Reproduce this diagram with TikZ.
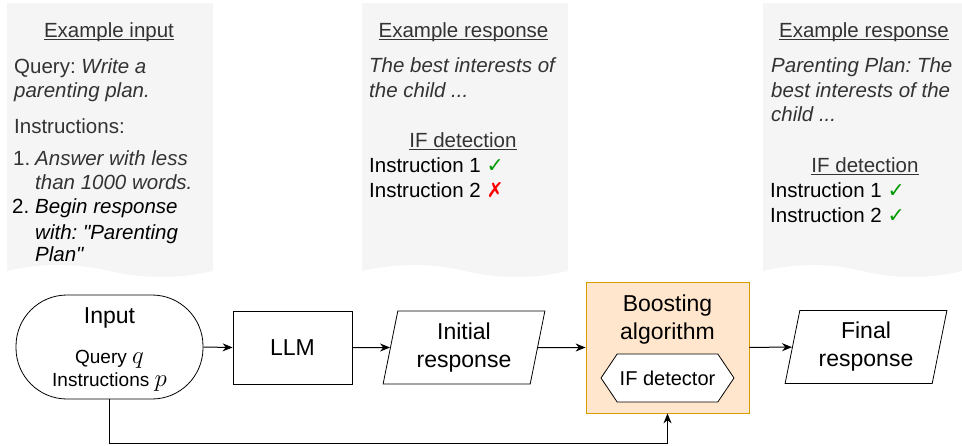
\documentclass[tikz,border=0pt]{standalone}
\usepackage{fontspec}
\setmainfont{Liberation Sans}
\newfontfamily\symfont{DejaVu Sans}
\usetikzlibrary{arrows.meta,shapes.geometric,shapes.symbols}
\DeclareMathSizes{19}{23}{16}{12}
\definecolor{docgray}{HTML}{F5F5F5}
\definecolor{txtgray}{HTML}{333333}
\definecolor{boostfill}{HTML}{FFE6CC}
\definecolor{boostline}{HTML}{D79B00}
\definecolor{okgreen}{HTML}{009900}
\newcommand{\okmark}{{\symfont\color{okgreen}✓}}
\newcommand{\nomark}{{\symfont\color{red}✗}}
\newcommand{\ulhead}[1]{\setbox0\hbox{#1}\rlap{\rule[-2.8pt]{\wd0}{0.9pt}}\box0}
\tikzset{
  flow/.style={draw, line width=0.8pt, minimum height=73pt, inner sep=0pt,
    align=center, font=\fontsize{23}{28}\selectfont},
  para/.style={flow, trapezium, trapezium left angle=78, trapezium right angle=102,
    trapezium stretches=true, minimum width=162pt},
  link/.style={line width=1pt, -{Stealth[length=10pt,width=8pt]}},
  doctxt/.style={anchor=base west, inner sep=0pt, text=txtgray,
    font=\fontsize{20.5}{24}\selectfont},
  docit/.style={doctxt, font=\fontsize{20.5}{24}\selectfont\itshape},
  dochead/.style={doctxt, anchor=base},
}
\frenchspacing
\begin{document}
\begin{tikzpicture}[x=1pt,y=-1pt]
\useasboundingbox (0,0) rectangle (962,445);
% example sheets
\foreach \xa/\xb in {7/213,362/568,763/962}{
    \fill[docgray] (\xa,3) -- (\xb,3) -- (\xb,271)
        .. controls ({\xb-(\xb-\xa)/6},279) and ({(\xa+\xb)/2+(\xb-\xa)/6},279) .. ({(\xa+\xb)/2},271)
        .. controls ({(\xa+\xb)/2-(\xb-\xa)/6},263) and ({\xa+(\xb-\xa)/6},263) .. (\xa,271) -- cycle;
}
% example input
\node[dochead] (head1) at (109,37) {\ulhead{Example input}};
\node[doctxt] (query) at (14,73) {Query: \textit{Write a}};
\node[docit] (query2) at (14,97) {parenting plan.};
\node[doctxt] (instr) at (14,133) {Instructions:};
\node[doctxt] (num1) at (13,165) {1.};
\node[doctxt, text=black] (num2) at (12,213) {2.};
\foreach \y/\t [count=\i] in {165/{Answer with less},189/{than 1000 words.}}
    \node[docit] (itema\i) at (35,\y) {\t};
\foreach \y/\t [count=\i] in {213/{Begin response},239/{with: \textquotedbl Parenting},261/{Plan\textquotedbl}}
    \node[docit, text=black] (itemb\i) at (35,\y) {\t};
% first response
\node[dochead] (head2) at (463.5,37) {\ulhead{Example response}};
\node[docit] (resa1) at (369,72.5) {The best interests of};
\node[docit] (resa2) at (369,97) {the child ...};
\node[dochead] (det2) at (463,147) {\ulhead{IF detection}};
\node[doctxt, text=black] (chka1) at (369,172) {Instruction 1 \okmark};
\node[doctxt, text=black] (chka2) at (369,197) {Instruction 2 \nomark};
% boosted response
\node[dochead] (head3) at (864,37) {\ulhead{Example response}};
\foreach \y/\t [count=\i] in {72/{Parenting Plan: The},97/{best interests of the},121/{child ...}}
    \node[docit] (resb\i) at (771,\y) {\t};
\node[dochead] (det3) at (865,172) {\ulhead{IF detection}};
\node[doctxt, text=black] (chkb1) at (770,197) {Instruction 1 \okmark};
\node[doctxt, text=black] (chkb2) at (770,222) {Instruction 2 \okmark};
% pipeline
\node[flow, rounded corners=51pt, minimum width=187pt, minimum height=104pt] (input) at (109.5,347) {};
\node[anchor=base, inner sep=0pt, font=\fontsize{23}{28}\selectfont] (inputhead) at (109.5,323) {Input};
\node[anchor=base, inner sep=0pt, font=\fontsize{19}{23}\selectfont] (inputq) at (109.5,363) {Query $q$};
\node[anchor=base, inner sep=0pt, font=\fontsize{19}{23}\selectfont] (inputp) at (109.5,386) {Instructions $p$};
\node[flow, minimum width=119pt] (llm) at (292.5,347.5) {LLM};
\node[para] (init) at (464,347.5) {Initial\\response};
\node[draw=boostline, fill=boostfill, line width=0.8pt, minimum width=163pt, minimum height=131pt] (boost) at (667.5,347.5) {};
\node[align=center, inner sep=0pt, font=\fontsize{23}{28}\selectfont] (boosthead) at (667.5,320) {Boosting\\algorithm};
\node[draw, fill=white, line width=0.8pt, signal, signal to=east and west, signal pointer angle=112,
    minimum width=133pt, minimum height=48pt, inner sep=0pt, font=\fontsize{20}{24}\selectfont] (ifdet) at (667.5,378) {IF detector};
\node[para] (final) at (866,347) {Final\\response};
\coordinate (back) at (109.5,443);
\draw[link] (input.east) -- (llm.west);
\draw[link] (llm) -- (init);
\draw[link] (init) -- (boost);
\draw[link] (boost) -- (final);
\draw[link] (input.south) -- (back) -| (boost.south);
\end{tikzpicture}
\end{document}
